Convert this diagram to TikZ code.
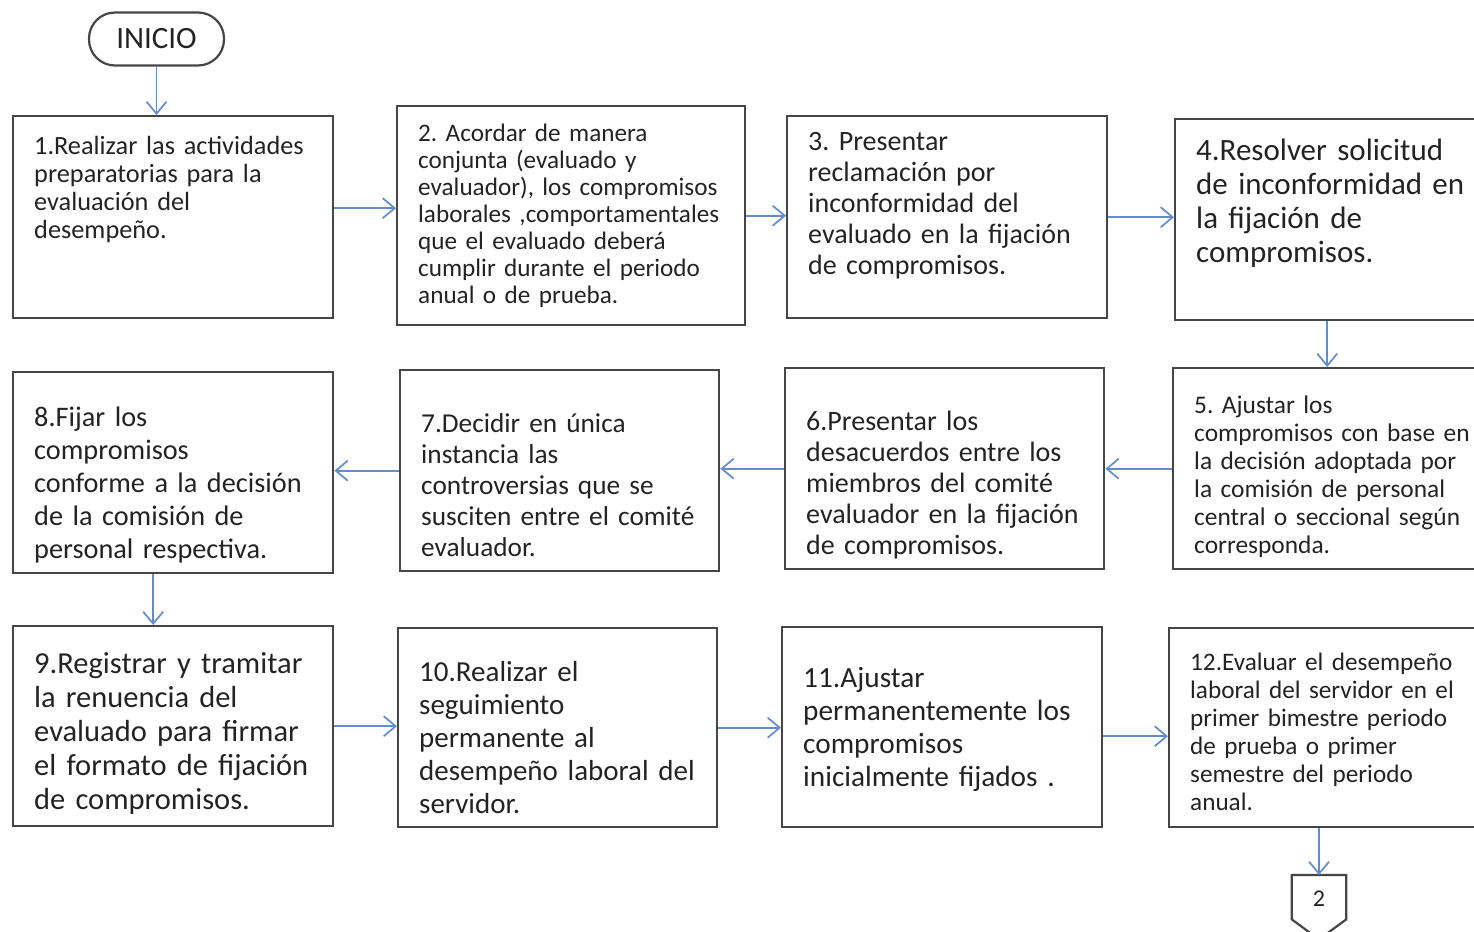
\documentclass[tikz,border=0pt]{standalone}
\usepackage{fontspec}
\setmainfont{Carlito}[WordSpace = 0.85]
\usetikzlibrary{arrows.meta}
\definecolor{boxgray}{RGB}{70,70,70}
\definecolor{flowblue}{RGB}{100,140,200}
\definecolor{textgray}{RGB}{35,35,35}
\frenchspacing

\begin{document}
\begin{tikzpicture}[
    x = 1pt, y = -1pt,
    stepbox/.style = {draw = boxgray, line width = 2.4pt, anchor = north west,
                      align = left, inner xsep = 21pt, inner ysep = 0pt,
                      text width = 278pt, text = textgray,
                      execute at begin node = {\rightskip = -60pt plus 1fil}},
    widebox/.style = {stepbox, text width = 300pt},
    startbox/.style = {draw = boxgray, line width = 2.2pt, rounded corners = 26pt,
                       minimum width = 135pt, minimum height = 53pt, text = textgray,
                       font = \fontsize{31}{34}\selectfont},
    flow/.style = {-{Straight Barb[length = 12pt, width = 20pt]}, draw = flowblue,
                   line width = 1.7pt}
  ]
  \useasboundingbox (0, 0) rectangle (1474, 931);
  \clip (0, 0) rectangle (1474, 931);
  % start
  \node[startbox] (inicio) at (156.5, 39) {INICIO};
  % first row
  \node[stepbox, font = \fontsize{26.3}{28}\selectfont, text height = 38pt, text depth = 164pt] (b1) at (12, 115)
    {1.Realizar las actividades\\ preparatorias para la\\ evaluación del\\ desempeño.};
  \node[stepbox, text width = 306pt, font = \fontsize{25.2}{27}\selectfont,
        text height = 35pt, text depth = 184pt] (b2) at (396, 105)
    {2. Acordar de manera\\ conjunta (evaluado y\\ evaluador), los compromisos\\ laborales ,comportamentales\\
     que el evaluado deberá\\ cumplir durante el periodo\\ anual o de prueba.};
  \node[stepbox, font = \fontsize{28}{31}\selectfont, text height = 34pt, text depth = 168pt] (b3) at (786, 115)
    {3. Presentar\\ reclamación por\\ inconformidad del\\ evaluado en la fijación\\ de compromisos.};
  \node[widebox, font = \fontsize{31}{34}\selectfont, text height = 41pt, text depth = 160pt] (b4) at (1174, 118)
    {4.Resolver solicitud\\ de inconformidad en\\ la fijación de\\ compromisos.};
  % second row
  \node[widebox, font = \fontsize{25.4}{28}\selectfont, text height = 45pt, text depth = 156pt] (b5) at (1172, 367)
    {5. Ajustar los\\ compromisos con base en\\ la decisión adoptada por\\ la comisión de personal\\
     central o seccional según\\ corresponda.};
  \node[stepbox, text width = 277pt, font = \fontsize{28}{31}\selectfont,
        text height = 62pt, text depth = 139pt] (b6) at (784, 367)
    {6.Presentar los\\ desacuerdos entre los\\ miembros del comité\\ evaluador en la fijación\\ de compromisos.};
  \node[stepbox, text width = 277pt, font = \fontsize{27.3}{31}\selectfont,
        text height = 62pt, text depth = 139pt] (b7) at (399, 369)
    {7.Decidir en única\\ instancia las\\ controversias que se\\ susciten entre el comité\\ evaluador.};
  \node[stepbox, font = \fontsize{28.3}{33}\selectfont, text height = 54pt, text depth = 147pt] (b8) at (12, 371)
    {8.Fijar los\\ compromisos\\ conforme a la decisión\\ de la comisión de\\ personal respectiva.};
  % third row
  \node[stepbox, font = \fontsize{30.5}{34}\selectfont, text height = 47pt, text depth = 153pt] (b9) at (12, 625)
    {9.Registrar y tramitar\\ la renuencia del\\ evaluado para firmar\\ el formato de fijación\\ de compromisos.};
  \node[stepbox, text width = 277pt, font = \fontsize{29}{33}\selectfont,
        text height = 53pt, text depth = 146pt] (b10) at (397, 627)
    {10.Realizar el\\ seguimiento\\ permanente al\\ desempeño laboral del\\ servidor.};
  \node[stepbox, font = \fontsize{29.3}{33}\selectfont, text height = 60pt, text depth = 140pt] (b11) at (781, 626)
    {11.Ajustar\\ permanentemente los\\ compromisos\\ inicialmente fijados .};
  \node[widebox, font = \fontsize{25.2}{28}\selectfont, text height = 42pt, text depth = 157pt] (b12) at (1168, 627)
    {12.Evaluar el desempeño\\ laboral del servidor en el\\ primer bimestre periodo\\ de prueba o primer\\
     semestre del periodo\\ anual.};
  % off-page connector
  \node[minimum width = 54pt, minimum height = 40pt, anchor = north, text = textgray,
        font = \fontsize{24}{28}\selectfont] (off) at (1319, 879) {2};
  \draw[draw = boxgray, line width = 2.2pt] ([yshift = 4pt]off.north west) -- ([yshift = 4pt]off.north east)
    -- (off.south east) -- ([yshift = -20pt]off.south) -- (off.south west) -- cycle;
  % the flow
  \draw[flow] (inicio) -- (inicio |- b1.north);
  \draw[flow] ([yshift = 9pt]b1.east) -- ([yshift = 9pt]b1.east -| b2.west);
  \draw[flow] (b2.east) -- (b2.east -| b3.west);
  \draw[flow] (b3.east) -- (b3.east -| b4.west);
  \draw[flow] ([xshift = -19pt]b4.south) -- ([xshift = -19pt]b4.south |- b5.north);
  \draw[flow] (b5.west) -- (b5.west -| b6.east);
  \draw[flow] (b6.west) -- (b6.west -| b7.east);
  \draw[flow] (b7.west) -- (b7.west -| b8.east);
  \draw[flow] ([xshift = -20pt]b8.south) -- ([xshift = -20pt]b8.south |- b9.north);
  \draw[flow] (b9.east) -- (b9.east -| b10.west);
  \draw[flow] (b10.east) -- (b10.east -| b11.west);
  \draw[flow] ([yshift = -9pt]b11.east) -- ([yshift = -9pt]b11.east -| b12.west);
  \draw[flow] (b12.south -| off) -- ([yshift = 4pt]off.north);
\end{tikzpicture}
\end{document}
